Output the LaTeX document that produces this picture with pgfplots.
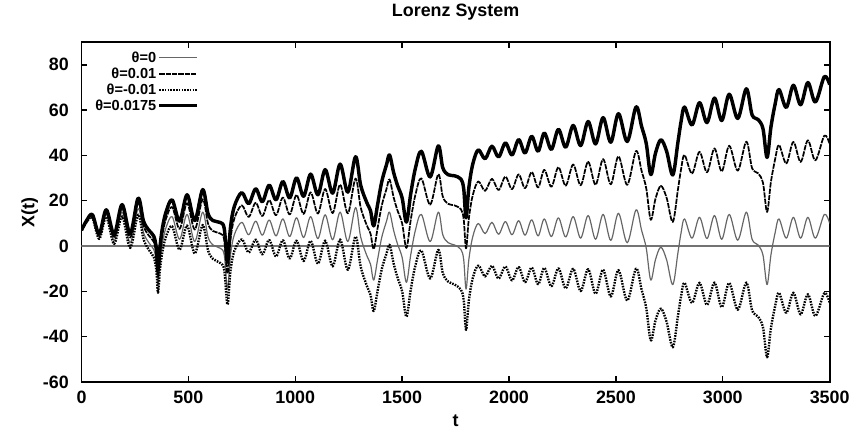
\documentclass[border=0pt]{standalone}
\usepackage{fontspec}
\setmainfont{Liberation Sans}
\usepackage{pgfplots}
\usepackage{pgfplotstable}
\pgfplotsset{compat=1.18}

% t, theta=0, theta=0.01, theta=-0.01, theta=0.0175
\pgfplotstableread{
t a b c d
0 7 7 7 7
25 11 11.25 10.75 11.44
51 13 13.51 12.49 13.89
83 4 4.83 3.17 5.45
116 14 15.16 12.84 16.03
153 2.5 4.03 0.97 5.18
190 15 16.9 13.1 18.33
228 1.5 3.78 -0.78 5.49
265 16.5 19.15 13.85 21.14
290 6 8.9 3.1 11.08
315 1.5 4.65 -1.65 7.01
338 -1.5 1.88 -4.88 4.42
350 -7 -3.5 -10.5 -0.87
358 -17 -13.42 -20.58 -10.73
367 -7 -3.33 -10.67 -0.58
378 1 4.78 -2.78 7.62
395 8 11.95 4.05 14.91
424 13 17.24 8.76 20.42
459 3 7.59 -1.59 11.03
494 14 18.94 9.06 22.65
530 2 7.3 -3.3 11.28
567 15 20.67 9.33 24.92
592 4 9.92 -1.92 14.36
615 0.5 6.65 -5.65 11.26
650 -1 5.5 -7.5 10.38
668 -4 2.68 -10.68 7.69
683 -19 -12.17 -25.83 -7.05
697 -4 2.97 -10.97 8.2
715 5 12.15 -2.15 17.51
750 10.5 18 3 23.63
782 5 12.82 -2.82 18.69
815 11 19.15 2.85 25.26
846 4.8 13.26 -3.66 19.61
878 11.5 20.28 2.72 26.87
910 4.5 13.6 -4.6 20.43
942 12 21.42 2.58 28.49
974 4.2 13.94 -5.54 21.25
1006 12.5 22.56 2.44 30.11
1039 3.8 14.19 -6.59 21.98
1072 13 23.72 2.28 31.76
1106 3.3 14.36 -7.76 22.66
1140 13.8 25.2 2.4 33.75
1175 2.8 14.55 -8.95 23.36
1210 15 27.1 2.9 36.18
1246 2 14.46 -10.46 23.81
1282 17 29.82 4.18 39.44
1306 4 17.06 -9.06 26.86
1334 -4 9.34 -17.34 19.35
1352 -8 5.52 -21.52 15.66
1367 -15 -1.33 -28.67 8.92
1385 -6 7.85 -19.85 18.24
1405 4 18.05 -10.05 28.59
1427 11 25.27 -3.27 35.97
1441 15 29.41 0.59 40.22
1460 7 21.6 -7.6 32.55
1478 1 15.78 -13.78 26.87
1500 -5 10 -20 21.25
1520 -16 -0.8 -31.2 10.6
1540 -4 11.4 -19.4 22.95
1562 7 22.62 -8.62 34.34
1590 14 29.9 -1.9 41.83
1631 2 18.31 -14.31 30.54
1669 15 31.69 -1.69 44.21
1690 5 21.9 -11.9 34.58
1715 1.5 18.65 -15.65 31.51
1745 0.5 17.95 -16.95 31.04
1775 -1.5 16.25 -19.25 29.56
1788 -6 11.88 -23.88 25.29
1799 -19 -1.01 -36.99 12.48
1812 -6 12.12 -24.12 25.71
1830 4 22.3 -14.3 36.03
1856 10 28.56 -8.56 42.48
1888 5.5 24.38 -13.38 38.54
1920 10.5 29.7 -8.7 44.1
1951 5.2 24.71 -14.31 39.34
1983 10.8 30.63 -9.03 45.5
2014 5 25.14 -15.14 40.25
2045 11.2 31.65 -9.25 46.99
2075 4.8 25.55 -15.95 41.11
2106 11.6 32.66 -9.46 48.46
2136 4.5 25.86 -16.86 41.88
2165 12 33.65 -9.65 49.89
2198 4.2 26.18 -17.78 42.67
2231 12.5 34.81 -9.81 51.54
2265 4 26.65 -18.65 43.64
2300 13 36 -10 53.25
2335 3.5 26.85 -19.85 44.36
2370 13.5 37.2 -10.2 54.98
2405 3 27.05 -21.05 45.09
2440 14 38.4 -10.4 56.7
2476 2.5 27.26 -22.26 45.83
2512 14.5 39.62 -10.62 58.46
2553 1.5 27.03 -24.03 46.18
2594 16 41.94 -9.94 61.4
2620 7 33.2 -19.2 52.85
2642 -1 25.42 -27.42 45.24
2663 -15 11.63 -41.63 31.6
2685 -6 20.85 -32.85 40.99
2710 -0.5 26.6 -27.6 46.93
2737 -6 21.37 -33.37 41.9
2766 -17 10.66 -44.66 31.41
2790 -3 24.9 -30.9 45.83
2805 6 34.05 -22.05 55.09
2821 12 40.21 -16.21 61.37
2856 3.5 32.06 -25.06 53.48
2891 12.7 41.61 -16.21 63.29
2926 3.3 32.56 -25.96 54.51
2961 13.5 43.11 -16.11 65.32
2995 3 32.95 -26.95 55.41
3030 14 44.3 -16.3 67.03
3070 2.6 33.3 -28.1 56.33
3110 15 46.1 -16.1 69.43
3137 3 34.37 -28.37 57.9
3165 0.5 32.15 -31.15 55.89
3188 -4 27.88 -35.88 51.79
3207 -17 15.07 -49.07 39.12
3225 -4 28.25 -36.25 52.44
3245 6 38.45 -26.45 62.79
3263 12 44.63 -20.63 69.1
3297 3.5 36.47 -29.47 61.2
3330 12.7 46 -20.6 70.98
3364 3.5 37.14 -30.14 62.37
3398 12.7 46.68 -21.28 72.17
3433 3.5 37.83 -30.83 63.58
3475 14 48.75 -20.75 74.81
3500 10 45 -25 71.25
}\lorenz

\begin{document}
\begin{tikzpicture}
\begin{axis}[
  scale only axis, width=564.75pt, height=256.5pt,
  xmin=0, xmax=3500, ymin=-60, ymax=90,
  xtick={0,500,...,3500}, ytick={-60,-40,...,80},
  scaled ticks=false,
  /pgf/number format/assume math mode=true,
  /pgf/number format/set thousands separator={},
  tick align=inside, major tick length=4.5pt,
  axis line style={line width=1.4pt},
  every tick/.style={black, line width=1pt},
  ticklabel style={font=\fontsize{13.5}{15}\selectfont\bfseries},
  xticklabel style={yshift=-3pt},
  yticklabel style={xshift=-6pt},
  title={Lorenz System},
  title style={font=\fontsize{13.5}{15}\selectfont\bfseries, at={(0.5,1.051)}, anchor=base},
  xlabel={t}, ylabel={X(t)},
  xlabel style={font=\fontsize{13.5}{15}\selectfont\bfseries, at={(0.5,-0.1316)}, anchor=base},
  ylabel style={font=\fontsize{13.5}{15}\selectfont\bfseries, at={(-0.0691,0.5)}, anchor=center},
  legend cell align=right, legend plot pos=right,
  legend style={at={(0.011,0.985)}, anchor=north west, draw=none, fill=none,
    font=\fontsize{11}{11}\selectfont\bfseries, row sep=0.6pt,
    nodes={inner sep=1pt}},
  legend image code/.code={\draw[#1] (0pt,0pt) -- (28.5pt,0pt);},
  every axis plot/.append style={line join=round, smooth, tension=0.55},
]
\addplot[forget plot, black!55, line width=0.9pt] coordinates {(0,0) (3500,0)};
\addplot[black!60, line width=0.9pt] table[x=t,y=a]{\lorenz};
\addlegendentry{θ=0}
\addplot[black, line width=1.3pt, dash pattern=on 4pt off 0.8pt] table[x=t,y=b]{\lorenz};
\addlegendentry{θ=0.01}
\addplot[black, line width=1.8pt, dash pattern=on 1.2pt off 0.9pt] table[x=t,y=c]{\lorenz};
\addlegendentry{θ=-0.01}
\addplot[black, line width=2.6pt] table[x=t,y=d]{\lorenz};
\addlegendentry{θ=0.0175}
\end{axis}
\path ([xshift=-61.5pt,yshift=-38.25pt]current axis.south west) rectangle ([xshift=14.25pt,yshift=29.25pt]current axis.north east);
\end{tikzpicture}
\end{document}
